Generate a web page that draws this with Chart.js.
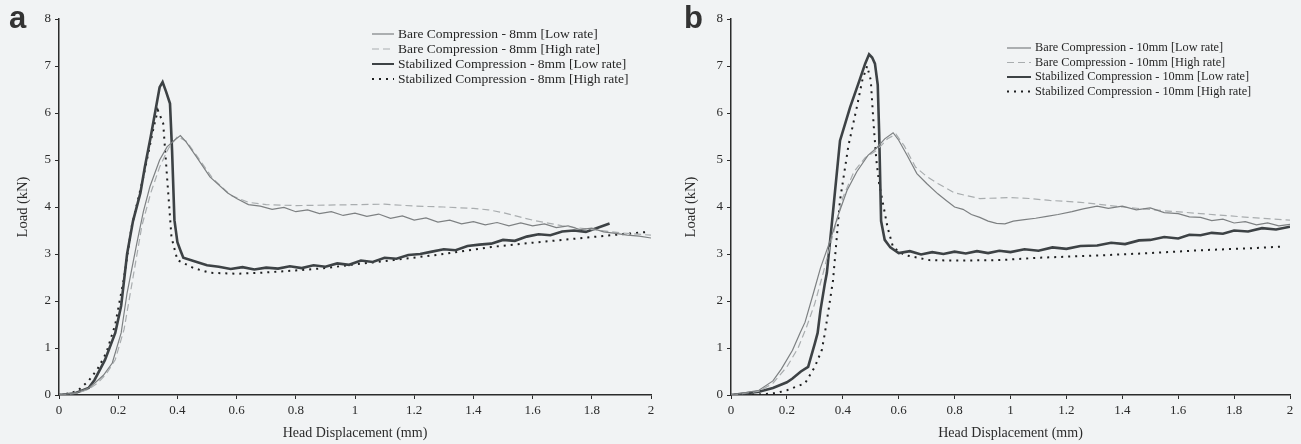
<!DOCTYPE html>
<html>
<head>
<meta charset="utf-8">
<script src="https://cdn.jsdelivr.net/npm/chart.js@4.4.1/dist/chart.umd.min.js"></script>
<style>
  body { margin: 0; background: #f1f3f4; }
  #fig { position: relative; width: 1301px; height: 444px; overflow: hidden; }
  .painel { position: absolute; top: 0; }
  .letra { position: absolute; top: 2px; font: bold 31px 'Liberation Sans', Arial, sans-serif; color: #333; line-height: 1; }
</style>
</head>
<body>
<div id="fig">
  <div class="painel" style="left:0"><canvas id="gA" width="660" height="444"></canvas></div>
  <div class="painel" style="left:660px"><canvas id="gB" width="641" height="444"></canvas></div>
  <div class="letra" style="left:9px">a</div>
  <div class="letra" style="left:684px">b</div>
</div>
<script>
/* ---- dados: deslocamento (mm) x carga (kN) ---- */
const X_TICK_LABELS = ['0', '0.2', '0.4', '0.6', '0.8', '1', '1.2', '1.4', '1.6', '1.8', '2'];
const Y_TICK_LABELS = ['0', '1', '2', '3', '4', '5', '6', '7', '8'];

const LEGENDA_A = [
  'Bare Compression - 8mm [Low rate]',
  'Bare Compression - 8mm [High rate]',
  'Stabilized Compression - 8mm [Low rate]',
  'Stabilized Compression - 8mm [High rate]'
];
const LEGENDA_B = [
  'Bare Compression - 10mm [Low rate]',
  'Bare Compression - 10mm [High rate]',
  'Stabilized Compression - 10mm [Low rate]',
  'Stabilized Compression - 10mm [High rate]'
];

// painel a — 8mm
const A_BARE_LOW_X = [0, 0.06, 0.1, 0.12, 0.15, 0.18, 0.21, 0.23, 0.263, 0.285, 0.307, 0.34, 0.365, 0.39, 0.41, 0.43, 0.465, 0.51, 0.57, 0.6, 0.64, 0.68, 0.72, 0.76, 0.8, 0.84, 0.88, 0.92, 0.96, 1.0, 1.04, 1.08, 1.12, 1.16, 1.2, 1.24, 1.28, 1.32, 1.36, 1.4, 1.44, 1.48, 1.52, 1.56, 1.6, 1.64, 1.68, 1.72, 1.76, 1.8, 1.84, 1.88, 1.92, 1.96, 2.0];
const A_BARE_LOW_Y = [0, 0.05, 0.15, 0.25, 0.42, 0.68, 1.32, 2.17, 3.23, 3.9, 4.43, 5.0, 5.28, 5.42, 5.52, 5.38, 5.06, 4.64, 4.3, 4.18, 4.05, 4.02, 3.95, 3.99, 3.9, 3.94, 3.86, 3.9, 3.82, 3.87, 3.8, 3.85, 3.76, 3.81, 3.72, 3.77, 3.68, 3.72, 3.64, 3.69, 3.62, 3.67, 3.6, 3.66, 3.6, 3.64, 3.56, 3.6, 3.52, 3.55, 3.47, 3.44, 3.4, 3.38, 3.34];

const A_BARE_HIGH_X = [0, 0.06, 0.1, 0.13, 0.16, 0.19, 0.22, 0.25, 0.28, 0.31, 0.34, 0.37, 0.4, 0.43, 0.47, 0.52, 0.58, 0.64, 0.7, 0.8, 0.9, 1.0, 1.1, 1.2, 1.3, 1.4, 1.45, 1.5, 1.55, 1.6, 1.7, 1.8, 1.9, 2.0];
const A_BARE_HIGH_Y = [0, 0.04, 0.12, 0.25, 0.45, 0.75, 1.4, 2.5, 3.6, 4.3, 4.85, 5.25, 5.5, 5.4, 5.05, 4.6, 4.25, 4.1, 4.05, 4.03, 4.04, 4.05, 4.06, 4.02, 4.0, 3.97, 3.94, 3.88, 3.8, 3.72, 3.6, 3.52, 3.45, 3.4];

const A_STAB_LOW_X = [0, 0.05, 0.1, 0.12, 0.155, 0.19, 0.21, 0.23, 0.25, 0.275, 0.29, 0.31, 0.34, 0.35, 0.362, 0.375, 0.382, 0.39, 0.4, 0.41, 0.42, 0.46, 0.5, 0.54, 0.58, 0.62, 0.66, 0.7, 0.74, 0.78, 0.82, 0.86, 0.9, 0.94, 0.98, 1.02, 1.06, 1.1, 1.14, 1.18, 1.22, 1.26, 1.3, 1.34, 1.38, 1.42, 1.46, 1.5, 1.54, 1.58, 1.62, 1.66, 1.7, 1.74, 1.78, 1.82, 1.86];
const A_STAB_LOW_Y = [0, 0.03, 0.15, 0.32, 0.74, 1.32, 1.9, 3.0, 3.7, 4.3, 4.85, 5.5, 6.55, 6.66, 6.45, 6.2, 5.2, 3.72, 3.25, 3.08, 2.92, 2.84, 2.76, 2.73, 2.68, 2.72, 2.67, 2.71, 2.69, 2.74, 2.7, 2.76, 2.73, 2.8, 2.77, 2.86, 2.83, 2.92, 2.9, 2.98, 3.0, 3.05, 3.1, 3.08, 3.17, 3.2, 3.22, 3.3, 3.28, 3.37, 3.42, 3.4, 3.48, 3.5, 3.47, 3.56, 3.65];

const A_STAB_HIGH_X = [0, 0.04, 0.065, 0.1, 0.13, 0.16, 0.19, 0.22, 0.245, 0.285, 0.32, 0.334, 0.352, 0.365, 0.38, 0.4, 0.455, 0.51, 0.6, 0.68, 0.8, 0.9, 1.0, 1.13, 1.3, 1.46, 1.6, 1.75, 1.9, 1.99];
const A_STAB_HIGH_Y = [0, 0.04, 0.1, 0.3, 0.55, 0.9, 1.5, 2.5, 3.57, 4.64, 5.7, 6.06, 5.78, 4.64, 3.36, 2.87, 2.7, 2.6, 2.58, 2.6, 2.65, 2.7, 2.78, 2.87, 3.0, 3.15, 3.24, 3.33, 3.42, 3.47];

// painel b — 10mm
const B_BARE_LOW_X = [0, 0.1, 0.15, 0.18, 0.22, 0.247, 0.265, 0.295, 0.32, 0.355, 0.385, 0.415, 0.45, 0.49, 0.52, 0.55, 0.58, 0.6, 0.63, 0.665, 0.7, 0.74, 0.77, 0.8, 0.83, 0.86, 0.89, 0.92, 0.95, 0.98, 1.01, 1.05, 1.09, 1.13, 1.17, 1.22, 1.26, 1.31, 1.35, 1.4, 1.45, 1.5, 1.55, 1.6, 1.64, 1.68, 1.72, 1.76, 1.8, 1.84, 1.88, 1.92, 1.96, 2.0];
const B_BARE_LOW_Y = [0, 0.1, 0.3, 0.55, 0.95, 1.32, 1.55, 2.17, 2.7, 3.29, 3.85, 4.35, 4.75, 5.1, 5.25, 5.45, 5.58, 5.42, 5.1, 4.71, 4.5, 4.28, 4.14, 4.0, 3.95, 3.84, 3.78, 3.7, 3.65, 3.64, 3.7, 3.73, 3.76, 3.8, 3.84, 3.9, 3.96, 4.02, 3.97, 4.02, 3.94, 3.98, 3.88, 3.86, 3.79, 3.78, 3.71, 3.74, 3.66, 3.69, 3.62, 3.66, 3.6, 3.63];

const B_BARE_HIGH_X = [0, 0.1, 0.15, 0.2, 0.24, 0.27, 0.3, 0.33, 0.36, 0.4, 0.44, 0.48, 0.52, 0.56, 0.59, 0.62, 0.66, 0.7, 0.74, 0.8, 0.89, 1.0, 1.07, 1.14, 1.25, 1.4, 1.55, 1.68, 1.85, 2.0];
const B_BARE_HIGH_Y = [0, 0.08, 0.25, 0.6, 1.0, 1.44, 1.95, 2.6, 3.3, 4.2, 4.75, 5.05, 5.2, 5.45, 5.55, 5.3, 4.85, 4.65, 4.5, 4.3, 4.18, 4.2, 4.18, 4.14, 4.1, 4.0, 3.92, 3.86, 3.78, 3.72];

const B_STAB_LOW_X = [0, 0.1, 0.15, 0.2, 0.22, 0.25, 0.276, 0.3, 0.31, 0.32, 0.336, 0.343, 0.36, 0.39, 0.426, 0.46, 0.48, 0.494, 0.505, 0.515, 0.525, 0.53, 0.537, 0.55, 0.57, 0.6, 0.64, 0.68, 0.72, 0.76, 0.8, 0.84, 0.88, 0.92, 0.96, 1.0, 1.05, 1.1, 1.15, 1.2, 1.25, 1.31, 1.36, 1.41, 1.46, 1.5, 1.55, 1.6, 1.64, 1.68, 1.72, 1.76, 1.8, 1.85, 1.9, 1.95, 2.0];
const B_STAB_LOW_Y = [0, 0.07, 0.15, 0.27, 0.35, 0.5, 0.6, 1.1, 1.32, 1.8, 2.38, 2.6, 3.6, 5.41, 6.12, 6.7, 7.05, 7.25, 7.18, 7.05, 6.6, 5.6, 3.7, 3.3, 3.14, 3.02, 3.06, 2.99, 3.04, 3.0, 3.05, 3.01, 3.06, 3.02, 3.07, 3.04, 3.1, 3.07, 3.14, 3.11, 3.17, 3.18, 3.24, 3.21, 3.29, 3.3, 3.36, 3.33, 3.41, 3.4, 3.45, 3.43, 3.5, 3.48, 3.55, 3.52, 3.58];

const B_STAB_HIGH_X = [0, 0.1, 0.16, 0.2, 0.265, 0.3, 0.325, 0.336, 0.35, 0.365, 0.39, 0.42, 0.45, 0.47, 0.487, 0.5, 0.51, 0.52, 0.53, 0.56, 0.58, 0.62, 0.71, 0.8, 0.96, 1.1, 1.32, 1.5, 1.68, 1.85, 1.98];
const B_STAB_HIGH_Y = [0, 0.01, 0.04, 0.1, 0.25, 0.6, 0.96, 1.32, 1.85, 2.44, 4.14, 5.3, 6.12, 6.7, 7.0, 6.7, 5.78, 5.0, 4.5, 3.57, 3.14, 2.98, 2.87, 2.86, 2.87, 2.92, 2.97, 3.02, 3.08, 3.12, 3.16];

/* ---- estilos das séries ---- */
const ESTILOS = [
  { borderColor: '#7d8082', borderWidth: 1.2, borderDash: [] },        // bare, low rate
  { borderColor: '#a9adaf', borderWidth: 1.2, borderDash: [7, 4] },    // bare, high rate
  { borderColor: '#3d4245', borderWidth: 2.6, borderDash: [] },        // stabilized, low rate
  { borderColor: '#1e1f20', borderWidth: 2, borderDash: [2, 5] }       // stabilized, high rate
];

const FONTE = "'Liberation Serif', 'Times New Roman', serif";

function pontos(xs, ys) {
  return xs.map((x, i) => ({ x, y: ys[i] }));
}

/* Legenda desenhada dentro da área do gráfico */
const legendaInterna = {
  id: 'legendaInterna',
  afterDatasetsDraw(chart, args, opts) {
    const ctx = chart.ctx;
    ctx.save();
    ctx.font = `${opts.fonte}px ${FONTE}`;
    ctx.fillStyle = '#262626';
    ctx.textBaseline = 'middle';
    chart.data.datasets.forEach((ds, i) => {
      const y = opts.y + i * opts.passo;
      ctx.strokeStyle = ds.borderColor;
      ctx.lineWidth = Math.min(ds.borderWidth, 2);
      ctx.setLineDash(ds.borderDash);
      ctx.beginPath();
      ctx.moveTo(opts.x, y);
      ctx.lineTo(opts.x + opts.largura, y);
      ctx.stroke();
      ctx.setLineDash([]);
      ctx.fillText(ds.label, opts.x + opts.largura + 4, y);
    });
    ctx.restore();
  }
};

function montarGrafico(id, series, rotulos, cfg) {
  new Chart(document.getElementById(id), {
    type: 'line',
    data: {
      datasets: series.map((s, i) => ({
        label: rotulos[i],
        data: pontos(s[0], s[1]),
        ...ESTILOS[i],
        pointRadius: 0,
        tension: 0,
        fill: false
      }))
    },
    options: {
      responsive: false,
      animation: false,
      layout: { padding: { left: 0, right: cfg.direita, top: 19, bottom: 0 } },
      plugins: {
        legend: { display: false },
        tooltip: { enabled: false },
        legendaInterna: cfg.legenda
      },
      scales: {
        x: {
          type: 'linear', min: 0, max: 2,
          afterFit: s => { s.height = 49; },
          border: { display: true, color: '#2b2b2b', width: 1.5 },
          grid: { drawOnChartArea: false, drawTicks: true, tickLength: 4, color: '#2b2b2b' },
          ticks: {
            stepSize: 0.2, color: '#2b2b2b', padding: 4, maxRotation: 0,
            font: { family: FONTE, size: 13 },
            callback: (v, i) => X_TICK_LABELS[i]
          },
          title: {
            display: true, text: 'Head Displacement (mm)', color: '#2b2b2b',
            font: { family: FONTE, size: 14 }, padding: { top: 0, bottom: 2 }
          }
        },
        y: {
          type: 'linear', min: 0, max: 8,
          afterFit: s => { s.width = cfg.esquerda; },
          border: { display: true, color: '#2b2b2b', width: 1.5 },
          grid: { drawOnChartArea: false, drawTicks: true, tickLength: 4, color: '#2b2b2b' },
          ticks: {
            stepSize: 1, color: '#2b2b2b', padding: 4,
            font: { family: FONTE, size: 13 },
            callback: (v, i) => Y_TICK_LABELS[i]
          },
          title: {
            display: true, text: 'Load (kN)', color: '#2b2b2b',
            font: { family: FONTE, size: 14.5 }, padding: { top: cfg.tituloY, bottom: 0 }
          }
        }
      }
    },
    plugins: [legendaInterna]
  });
}

montarGrafico('gA', [
  [A_BARE_LOW_X, A_BARE_LOW_Y],
  [A_BARE_HIGH_X, A_BARE_HIGH_Y],
  [A_STAB_LOW_X, A_STAB_LOW_Y],
  [A_STAB_HIGH_X, A_STAB_HIGH_Y]
], LEGENDA_A, { esquerda: 59, direita: 9, tituloY: 14, legenda: { x: 372, y: 34, passo: 15, largura: 22, fonte: 13.5 } });

montarGrafico('gB', [
  [B_BARE_LOW_X, B_BARE_LOW_Y],
  [B_BARE_HIGH_X, B_BARE_HIGH_Y],
  [B_STAB_LOW_X, B_STAB_LOW_Y],
  [B_STAB_HIGH_X, B_STAB_HIGH_Y]
], LEGENDA_B, { esquerda: 71, direita: 11, tituloY: 22, legenda: { x: 347, y: 48, passo: 14.5, largura: 24, fonte: 12.3 } });
</script>
</body>
</html>
